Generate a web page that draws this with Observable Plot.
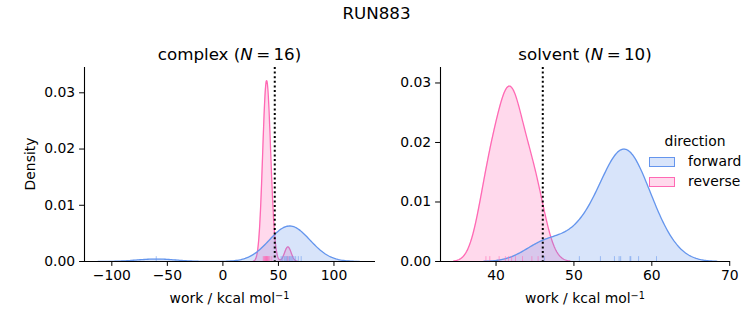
<!DOCTYPE html>
<html><head><meta charset="utf-8">
<script src="https://cdn.jsdelivr.net/npm/d3@7"></script>
<script src="https://cdn.jsdelivr.net/npm/@observablehq/plot@0.6"></script>
<style>
body{margin:0;background:#fff;font-family:"DejaVu Sans",sans-serif;}
#fig{position:relative;width:753px;height:325px;overflow:hidden;background:#fff;}
#fig svg{position:absolute;top:0;}
.t{position:absolute;white-space:nowrap;line-height:1;color:#000;transform:translate(-50%,-50%);}
.sw{position:absolute;width:26px;height:10px;box-sizing:border-box;}
</style></head><body><div id="fig"></div>
<script>
// ---- data ----
const suptitle = "RUN883";
const directions = ["forward", "reverse"];
const colors = ["#6495ED", "#FF69B4"];
const complexForward = [-60.0, 52.4, 53.5, 55.1, 56.0, 57.0, 57.8, 58.6, 59.8, 60.5, 61.5, 62.5, 64.0, 65.5, 67.9, 70.5];
const complexReverse = [36.3, 36.9, 37.5, 38.0, 38.4, 38.8, 39.1, 39.4, 39.7, 40.0, 40.4, 40.9, 41.5, 42.3, 44.0, 58.5];
const solventForward = [46.2, 50.7, 53.4, 55.2, 55.8, 56.0, 57.2, 57.3, 58.3, 60.6];
const solventReverse = [38.7, 39.2, 40.4, 41.2, 41.6, 42.0, 42.5, 43.4, 44.6, 45.4];
const estimates = [46.7, 46.0];          // dotted vertical lines (complex, solvent)
const xTicksComplex = [-100, -50, 0, 50, 100];
const xTicksSolvent = [40, 50, 60, 70];
const yTicks = [0, 0.01, 0.02, 0.03];
const xDomains = [[-124.6, 137.4], [32.87, 70.1]];
const yDomains = [[0, 0.0345], [0, 0.0326]];

const totalN = complexForward.length + complexReverse.length + solventForward.length + solventReverse.length;

function kde(values, weight) {
  const n = values.length;
  const bw = d3.deviation(values) * Math.pow(n, -0.2);
  const lo = d3.min(values) - 3 * bw, hi = d3.max(values) + 3 * bw;
  const out = [];
  for (let i = 0; i < 200; i++) {
    const x = lo + (hi - lo) * i / 199;
    let s = 0;
    for (const v of values) { const z = (x - v) / bw; s += Math.exp(-0.5 * z * z); }
    out.push({x, y: weight * s / (n * bw * Math.sqrt(2 * Math.PI))});
  }
  return out;
}
const fmtX = d => d < 0 ? "\u2212" + Math.abs(d) : String(d);

function panel(fwd, rev, xdom, ydom, xticks, est, width, ml, mr) {
  const sets = [fwd, rev];
  const curves = sets.map(v => kde(v, v.length / totalN));
  const marks = [];
  for (const i of [1, 0]) {
    marks.push(Plot.areaY(curves[i], {x: "x", y: "y", fill: colors[i], fillOpacity: 0.25}));
    marks.push(Plot.lineY(curves[i], {x: "x", y: "y", stroke: colors[i], strokeWidth: 1.3}));
  }
  for (const i of [0, 1]) {
    marks.push(Plot.ruleX(sets[i], {x: d => d, y1: 0, y2: ydom[1] * 0.025, stroke: colors[i], strokeOpacity: 0.55, strokeWidth: 1}));
  }
  marks.push(Plot.ruleX([est], {stroke: "black", strokeWidth: 2, strokeDasharray: "2,2.6"}));
  marks.push(Plot.ruleY([0], {stroke: "black", strokeWidth: 1.1}));
  marks.push(Plot.ruleX([xdom[0]], {stroke: "black", strokeWidth: 1.1}));
  return Plot.plot({
    width, height: 325,
    marginLeft: ml, marginRight: mr, marginTop: 67, marginBottom: 64,
    style: {background: "transparent", fontFamily: "DejaVu Sans", fontSize: "13.9px", color: "#000", overflow: "visible"},
    x: {domain: xdom, ticks: xticks, tickFormat: fmtX, tickSize: 4.9, tickPadding: 4, label: null},
    y: {domain: ydom, ticks: yTicks, tickFormat: d3.format(".2f"), tickSize: 4.9, tickPadding: 4.5, label: null},
    marks
  });
}

const fig = document.getElementById("fig");
const p1 = panel(complexForward, complexReverse, xDomains[0], yDomains[0], xTicksComplex, estimates[0], 400, 84, 25);
p1.style.left = "0px";
const p2 = panel(solventForward, solventReverse, xDomains[1], yDomains[1], xTicksSolvent, estimates[1], 393, 80, 23);
p2.style.left = "360px";
fig.appendChild(p1);
fig.appendChild(p2);

function txt(html, cx, cy, size, extra) {
  const d = document.createElement("div");
  d.className = "t";
  d.innerHTML = html;
  d.style.left = cx + "px";
  d.style.top = cy + "px";
  d.style.fontSize = size + "px";
  if (extra) Object.assign(d.style, extra);
  fig.appendChild(d);
  return d;
}
txt(suptitle, 376.5, 13, 16.7);
txt("complex (<i>N</i>\u2009=\u200916)", 229.5, 54, 16.7);
txt("solvent (<i>N</i>\u2009=\u200910)", 585, 54, 16.7);
const xlab = "work / kcal mol<sup style='font-size:70%;vertical-align:0.45em;line-height:0'>\u22121</sup>";
txt(xlab, 229.5, 299, 13.9);
txt(xlab, 585, 299, 13.9);
txt("Density", 31, 164, 13.9, {transform: "translate(-50%,-50%) rotate(-90deg)"});

// legend
txt("direction", 695, 142, 13.9);
directions.forEach((name, i) => {
  const sw = document.createElement("div");
  sw.className = "sw";
  sw.style.left = "649px";
  sw.style.top = (157 + 20 * i) + "px";
  const c = d3.color(colors[i]); c.opacity = 0.25;
  sw.style.background = c.formatRgb();
  sw.style.border = "1.2px solid " + colors[i];
  fig.appendChild(sw);
  txt(name, 688, 162 + 20 * i, 13.9, {transform: "translate(0,-50%)"});
});
</script></body></html>
